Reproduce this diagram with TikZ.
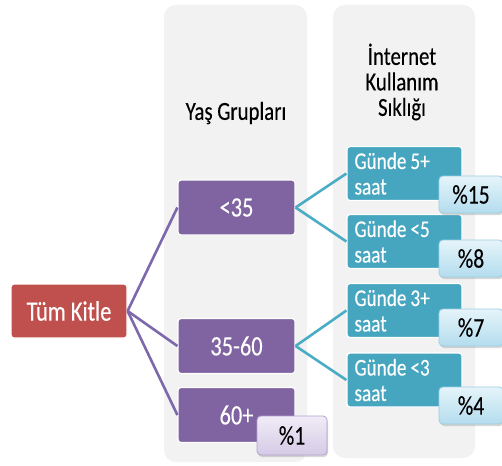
\documentclass[tikz,border=0pt]{standalone}
\usepackage{fontspec}
\setmainfont{Carlito}[FakeStretch=0.8, FakeBold=0.2]
\usetikzlibrary{shadows}
\definecolor{panelgray}{HTML}{F2F2F2}
\definecolor{boxred}{HTML}{C0504D}
\definecolor{boxpurple}{HTML}{8064A2}
\definecolor{boxteal}{HTML}{46A6C0}
\definecolor{linepurple}{HTML}{7E68AC}
\definecolor{lineteal}{HTML}{4BACC6}
\definecolor{valtop}{HTML}{E6F4FA}
\definecolor{valbot}{HTML}{B3DDEE}
\definecolor{valborder}{HTML}{9CCFE2}
\definecolor{lavtop}{HTML}{F0ECF6}
\definecolor{lavbot}{HTML}{D5CAE6}
\definecolor{lavborder}{HTML}{B2A3CF}
\tikzset{
  panel/.style={fill=panelgray, draw=none, rounded corners=12pt},
  rootbox/.style={fill=boxred, draw=white, line width=1.2pt, rounded corners=3pt,
    minimum width=116pt, minimum height=54pt, inner sep=0pt, text=white, font=\fontsize{28}{30}\selectfont},
  agebox/.style={fill=boxpurple, draw=white, line width=1.2pt, rounded corners=3pt,
    minimum width=117pt, minimum height=55pt, inner sep=0pt, text=white, font=\fontsize{28}{30}\selectfont},
  freqbox/.style={fill=boxteal, draw=white, line width=1.2pt, rounded corners=3pt,
    minimum width=115pt, minimum height=54pt, inner xsep=7.5pt, inner ysep=0pt,
    text width=100pt, align=left, text=white, font=\fontsize{24}{25.5}\selectfont},
  valbox/.style={top color=valtop, bottom color=valbot, draw=valborder, line width=0.8pt,
    rounded corners=4pt, minimum width=64pt, minimum height=37pt, inner sep=0pt,
    font=\fontsize{27}{29}\selectfont, text=black,
    drop shadow={shadow xshift=1pt, shadow yshift=-2pt, opacity=0.3}},
  lavbox/.style={top color=lavtop, bottom color=lavbot, draw=lavborder, line width=0.8pt,
    rounded corners=4pt, minimum width=70pt, minimum height=39pt, inner sep=0pt,
    font=\fontsize{27}{29}\selectfont, text=black,
    drop shadow={shadow xshift=1pt, shadow yshift=-2pt, opacity=0.3}},
  header/.style={align=center, font=\fontsize{26}{25.5}\selectfont, text=black},
  plink/.style={draw=linepurple, line width=2.6pt},
  tlink/.style={draw=lineteal, line width=2.6pt}
}
\begin{document}
\begin{tikzpicture}[x=1pt, y=-1pt]
\useasboundingbox (0,0) rectangle (502,465);
\fill[white] (0,0) rectangle (502,465);
% panels
\path[panel] (164,5) rectangle (307,462);
\path[panel] (333,5) rectangle (475,458);
% headers
\node[header] (h1) at (236,113) {Yaş Grupları};
\node[header] (h2) at (402,82) {İnternet\\Kullanım\\Sıklığı};
% nodes
\node[rootbox] (root) at (69,311) {Tüm Kitle};
\node[agebox] (a1) at (236.5,207.5) {<35};
\node[agebox] (a2) at (236.5,346) {35-60};
\node[agebox] (a3) at (236.5,415) {60+};
\node[freqbox] (f1) at (404.5,173.5) {Günde\hspace{4pt}5+\\saat};
\node[freqbox] (f2) at (404.5,241.5) {Günde\hspace{4pt}<5\\saat};
\node[freqbox] (f3) at (404.5,310.5) {Günde\hspace{4pt}3+\\saat};
\node[freqbox] (f4) at (404.5,380) {Günde\hspace{4pt}<3\\saat};
% connectors
\draw[plink] (root.east) -- (a1.west);
\draw[plink] (root.east) -- (a2.west);
\draw[plink] (root.east) -- (a3.west);
\draw[tlink] (a1.east) -- (f1.west);
\draw[tlink] (a1.east) -- (f2.west);
\draw[tlink] (a2.east) -- (f3.west);
\draw[tlink] (a2.east) -- (f4.west);
% value boxes
\node[valbox] (v1) at (471,194.5) {\%15};
\node[valbox] (v2) at (471,258.5) {\%8};
\node[valbox] (v3) at (471,327.5) {\%7};
\node[valbox] (v4) at (471,405.5) {\%4};
\node[lavbox] (v0) at (292,435.5) {\%1};
\end{tikzpicture}
\end{document}
